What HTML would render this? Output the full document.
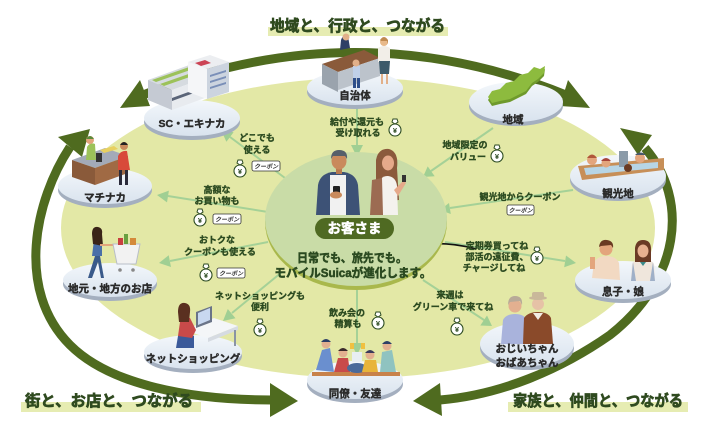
<!DOCTYPE html>
<html><head><meta charset="utf-8">
<style>
html,body{margin:0;padding:0;background:#fff;}
svg{display:block;}
text{font-family:"Liberation Sans","Noto Sans CJK JP",sans-serif;font-weight:bold;}
.t{fill:#2b4a20;font-size:9px;text-anchor:middle;stroke:#2b4a20;stroke-width:0.35;}
.n{fill:#2a2a2a;font-size:10.5px;text-anchor:middle;stroke:#2a2a2a;stroke-width:0.4;}
.h{fill:#2f4a1f;font-size:15.5px;stroke:#2f4a1f;stroke-width:0.7;}
.y{fill:#2b4a20;font-size:7.5px;text-anchor:middle;}
.c{fill:#333;font-size:6px;text-anchor:middle;font-style:italic;}
.m{fill:#2b4a20;font-size:12px;text-anchor:middle;stroke:#2b4a20;stroke-width:0.55;}
</style></head><body>
<svg width="719" height="435" viewBox="0 0 719 435" xmlns="http://www.w3.org/2000/svg">
<defs>
<linearGradient id="dg" x1="0" y1="0" x2="0" y2="1"><stop offset="0" stop-color="#f3f7fb"/><stop offset="1" stop-color="#d9e3ee"/></linearGradient>
</defs>
<rect width="719" height="435" fill="#fff"/>
<ellipse cx="358" cy="228" rx="297" ry="150" fill="#e3e8a6"/>

<!-- big arrows -->
<g fill="none" stroke="#4f6b1f" stroke-width="9">
<path d="M143 95 Q355 10 566 95"/>
<path d="M70 147 C35 200 15 290 70 345 C110 385 190 400 272 400"/>
<path d="M645 148 C690 200 680 280 610 335 C560 370 500 395 440 400"/>
</g>
<g fill="#4f6b1f">
<polygon points="140,80 120,108 150,106"/>
<polygon points="568,80 590,108 560,106"/>
<polygon points="58,137 90,129 82,157"/>
<polygon points="652,135 620,128 638,155"/>
<polygon points="270,383 298,401 270,417"/>
<polygon points="440,383 413,401 442,416"/>
</g>

<!-- titles -->
<rect x="268" y="27" width="180" height="9" fill="#e6ecb2"/>
<text class="h" x="270" y="31" textLength="175" lengthAdjust="spacingAndGlyphs">地域と、行政と、つながる</text>
<rect x="21" y="402" width="180" height="10" fill="#e6ecb2"/>
<text class="h" x="25" y="406" textLength="168" lengthAdjust="spacingAndGlyphs">街と、お店と、つながる</text>
<rect x="508" y="402" width="180" height="10" fill="#e6ecb2"/>
<text class="h" x="513" y="406" textLength="170" lengthAdjust="spacingAndGlyphs">家族と、仲間と、つながる</text>

<!-- connectors -->
<g stroke="#a5d197" stroke-width="2" fill="none">
<line x1="357" y1="108" x2="357" y2="147"/>
<line x1="493" y1="128" x2="431" y2="171"/>
<line x1="573" y1="190" x2="450" y2="208"/>
<line x1="445" y1="242" x2="565" y2="261"/>
<line x1="423" y1="280" x2="484" y2="320"/>
<line x1="357" y1="288" x2="357" y2="344"/>
<line x1="282" y1="272" x2="232" y2="313"/>
<line x1="268" y1="242" x2="170" y2="261"/>
<line x1="268" y1="212" x2="168" y2="196"/>
<line x1="285" y1="178" x2="230" y2="137"/>
</g>
<g fill="#a0cf93">
<polygon points="351,145 363,145 357,157"/>
<polygon points="427.7,166.4 434.7,176.2 423,177"/>
<polygon points="449,203 450.8,214 440,210"/>
<polygon points="564.2,267.3 566,255.5 576,263"/>
<polygon points="480.3,325.5 487,315.5 492,326"/>
<polygon points="351,343 363,343 357,355"/>
<polygon points="227.8,309 235.5,318.3 223,321"/>
<polygon points="168.7,255.2 171,267 159,263"/>
<polygon points="168.9,190.6 167,202.4 157,195"/>
<polygon points="233.6,132.2 226.4,141.8 221,130"/>
</g>

<!-- black stray line -->
<path d="M423 244 Q452 242 476 249" stroke="#111" stroke-width="1.6" fill="none"/>

<!-- center circle -->
<ellipse cx="356" cy="222" rx="91" ry="68" fill="#a9b84c"/>
<ellipse cx="356" cy="219" rx="91" ry="67" fill="#c9dca7"/>

<!-- center people: man -->
<g>
<path d="M316 215 L318 185 Q320 174 332 172 L344 172 Q356 174 358 185 L360 215 Z" fill="#3d5276"/>
<rect x="330" y="175" width="16" height="40" fill="#f1f1f1"/>
<rect x="336" y="166" width="6" height="8" fill="#b97a50"/>
<ellipse cx="339" cy="161" rx="7.5" ry="8.5" fill="#c98a5c"/>
<path d="M331 159 Q331 150 339 150 Q348 150 347 159 L345 156 L333 156 Z" fill="#56606a"/>
<rect x="333" y="186" width="7" height="10" rx="1" fill="#222"/>
<ellipse cx="336" cy="195" rx="6" ry="3.5" fill="#c98a5c"/>
</g>
<!-- center people: woman -->
<g>
<path d="M376 160 Q378 148 389 149 Q399 152 397 168 L399 200 L380 202 L376 180 Z" fill="#8b5a3c"/>
<path d="M378 185 Q380 176 388 176 Q396 177 397 186 L398 215 L377 215 Z" fill="#f4f2ee"/>
<ellipse cx="388" cy="163" rx="6" ry="7.5" fill="#e5a98a"/>
<path d="M372 180 L382 178 L383 215 L370 215 Z" fill="#9c6b52"/>
<path d="M394 190 L404 180 L406 183 L398 196 Z" fill="#e5a98a"/>
<rect x="402" y="175" width="4" height="7" fill="#333"/>
</g>
<rect x="315" y="218" width="79" height="21" rx="10.5" fill="#4f6a22"/>
<text x="354.5" y="233" fill="#fff" stroke="#fff" stroke-width="0.5" font-size="13.5" text-anchor="middle">お客さま</text>
<text class="m" x="352" y="262" textLength="110" lengthAdjust="spacingAndGlyphs">日常でも、旅先でも。</text>
<text class="m" x="353" y="277" textLength="157" lengthAdjust="spacingAndGlyphs">モバイルSuicaが進化します。</text>

<!-- nodes: disks -->
<g>
<ellipse cx="355" cy="92" rx="48" ry="17" fill="#a4afbf"/><ellipse cx="355" cy="88" rx="48" ry="17" fill="url(#dg)"/>
<ellipse cx="192" cy="122" rx="48" ry="18" fill="#a4afbf"/><ellipse cx="192" cy="118" rx="48" ry="18" fill="url(#dg)"/>
<ellipse cx="516" cy="106" rx="47" ry="20" fill="#a4afbf"/><ellipse cx="516" cy="102" rx="47" ry="20" fill="url(#dg)"/>
<ellipse cx="618" cy="180" rx="48" ry="21" fill="#a4afbf"/><ellipse cx="618" cy="176" rx="48" ry="21" fill="url(#dg)"/>
<ellipse cx="623" cy="284" rx="48" ry="19" fill="#a4afbf"/><ellipse cx="623" cy="280" rx="48" ry="19" fill="url(#dg)"/>
<ellipse cx="527" cy="348" rx="47" ry="22" fill="#a4afbf"/><ellipse cx="527" cy="344" rx="47" ry="22" fill="url(#dg)"/>
<ellipse cx="355" cy="384" rx="48" ry="19" fill="#a4afbf"/><ellipse cx="355" cy="380" rx="48" ry="19" fill="url(#dg)"/>
<ellipse cx="193" cy="356" rx="49" ry="17" fill="#a4afbf"/><ellipse cx="193" cy="352" rx="49" ry="17" fill="url(#dg)"/>
<ellipse cx="110" cy="284" rx="47" ry="17" fill="#a4afbf"/><ellipse cx="110" cy="280" rx="47" ry="17" fill="url(#dg)"/>
<ellipse cx="105" cy="190" rx="47" ry="18" fill="#a4afbf"/><ellipse cx="105" cy="186" rx="47" ry="18" fill="url(#dg)"/>
</g>

<!-- 自治体 illustration -->
<g>
<path d="M341 40 Q343 34 348 36 L350 48 L340 50 Z" fill="#2e3f66"/>
<circle cx="346" cy="37" r="3.5" fill="#e2b08a"/>
<polygon points="322,64 364,50 380,58 338,72" fill="#8a5a3a"/>
<polygon points="322,64 338,72 338,92 322,84" fill="#9aa3ad"/>
<polygon points="338,72 380,58 380,76 338,90" fill="#bcc3cb"/>
<rect x="353" y="66" width="7" height="12" fill="#c0d0e8"/>
<rect x="353" y="78" width="3" height="10" fill="#2f4f8a"/><rect x="357" y="78" width="3" height="10" fill="#2f4f8a"/>
<circle cx="356" cy="63" r="3.5" fill="#e2b08a"/>
<path d="M378 48 Q384 44 390 48 L390 62 L378 62 Z" fill="#f2eee8"/>
<path d="M379 61 L390 61 L389 74 L380 74 Z" fill="#3d5a6a"/>
<rect x="381" y="74" width="2" height="10" fill="#e2b08a"/><rect x="386" y="74" width="2" height="10" fill="#e2b08a"/>
<circle cx="384" cy="42" r="4" fill="#e8b98a"/>
<path d="M380 40 Q384 34 388 40 L388 44 L387 41 L381 41 Z" fill="#c08a50"/>
</g>
<text class="n" x="355" y="99">自治体</text>

<!-- SC illustration -->
<g>
<polygon points="148,80 192,64 216,74 172,90" fill="#d6dbe0"/>
<polygon points="152,80 192,66 196,68 156,82" fill="#9cc25a"/>
<polygon points="160,84 200,70 204,72 164,86" fill="#9cc25a"/>
<polygon points="148,80 172,90 172,110 148,100" fill="#c5cad3"/>
<polygon points="172,90 216,74 216,94 172,110" fill="#e8ebef"/>
<polygon points="172,98 216,82 216,85 172,101" fill="#5a6478"/>
<polygon points="188,62 210,55 229,62 207,69" fill="#eceef1"/>
<polygon points="188,62 207,69 207,99 188,92" fill="#f5f6f8"/>
<polygon points="207,69 229,62 229,92 207,99" fill="#ccd4df"/>
<polygon points="195,63 205,60 211,63 201,66" fill="#cc4455"/>
<polygon points="210,75 226,70 226,72 210,77" fill="#7a8fb8"/>
<polygon points="210,81 226,76 226,78 210,83" fill="#7a8fb8"/>
<polygon points="210,87 226,82 226,84 210,89" fill="#7a8fb8"/>
</g>
<text class="n" x="192" y="127">SC・エキナカ</text>

<!-- 地域 map -->
<g>
<path d="M488 100 L492 94 L500 92 L506 86 L514 84 L520 78 L528 76 L534 70 L540 72 L545 69 L544 76 L538 82 L532 86 L526 94 L518 98 L510 102 L500 104 L492 106 Z" fill="#6f9a2c"/>
<path d="M488 97 L492 91 L500 89 L506 83 L514 81 L520 75 L528 73 L534 67 L540 69 L545 66 L544 73 L538 79 L532 83 L526 91 L518 95 L510 99 L500 101 L492 103 Z" fill="#8dbb3e"/>
</g>
<text class="n" x="513" y="123">地域</text>

<!-- 観光地 -->
<g>
<polygon points="578,166 664,158 664,170 582,180" fill="#c78f58"/>
<polygon points="584,168 658,162 658,168 586,175" fill="#b7d5e6"/>
<circle cx="592" cy="160" r="5" fill="#e3a57c"/><path d="M587 158 Q592 151 597 158 Z" fill="#b0573a"/>
<circle cx="606" cy="163" r="4.5" fill="#e3a57c"/><path d="M601 161 Q606 155 611 161 Z" fill="#a8453a"/>
<rect x="619" y="151" width="9" height="16" fill="#8a9aa8"/>
<circle cx="640" cy="158" r="5" fill="#e3a57c"/><path d="M635 155 Q640 150 646 155 Z" fill="#4a5a6a"/>
<circle cx="628" cy="168" r="4" fill="#6a3a22"/>
</g>
<text class="n" x="618" y="197">観光地</text>

<!-- 息子・娘 -->
<g>
<path d="M592 278 L594 262 Q598 256 606 256 Q616 256 619 263 L620 280 Z" fill="#f2d9c2"/>
<circle cx="606" cy="249" r="6.5" fill="#e3a57c"/>
<path d="M599 247 Q600 239 607 240 Q614 241 613 248 L611 245 L601 246 Z" fill="#6a3a22"/>
<rect x="590" y="257" width="5" height="12" fill="#e3a57c"/>
<path d="M631 281 L632 264 Q635 259 643 259 Q651 259 654 264 L655 281 Z" fill="#efe6dc"/>
<path d="M633 262 L636 281 L631 281 Z" fill="#9fb0c8"/><path d="M653 262 L650 281 L655 281 Z" fill="#9fb0c8"/>
<path d="M635 248 Q636 240 643 240 Q651 240 651 249 L651 262 L635 262 Z" fill="#6b3a25"/>
<ellipse cx="643" cy="251" rx="5.5" ry="6.5" fill="#e8b090"/>
<path d="M640 262 L646 262 L643 266 Z" fill="#3a8a8a"/>
</g>
<text class="n" x="623" y="295">息子・娘</text>

<!-- grandparents -->
<g>
<path d="M501 344 L503 320 Q506 314 515 314 Q524 314 527 320 L528 344 Z" fill="#a9b3dc"/>
<circle cx="515" cy="306" r="6.5" fill="#e3b090"/>
<path d="M508 305 Q508 296 515 296 Q523 296 522 305 L520 301 L510 302 Z" fill="#b8aa98"/>
<path d="M523 344 L524 318 Q528 312 538 312 Q548 312 551 318 L553 344 Z" fill="#8a4a2a"/>
<path d="M533 313 L538 320 L543 313 Z" fill="#f2ece4"/>
<circle cx="538" cy="304" r="6" fill="#e6c2a6"/>
<ellipse cx="538" cy="298" rx="9" ry="2" fill="#c9b89a"/>
<rect x="532" y="292" width="12" height="6" rx="2" fill="#c9b89a"/>
</g>
<text class="n" x="527" y="352">おじいちゃん</text>
<text class="n" x="527" y="366">おばあちゃん</text>

<!-- 同僚 -->
<g>
<rect x="312" y="372" width="88" height="4" fill="#c8824a"/>
<path d="M316 370 L322 350 L330 348 L334 372 Z" fill="#6a8fcf"/>
<circle cx="326" cy="344" r="4.5" fill="#e3b090"/><path d="M321 342 Q326 336 331 342 Z" fill="#2e3f66"/>
<path d="M334 372 L338 358 L348 358 L350 372 Z" fill="#c84a4a"/>
<circle cx="343" cy="353" r="4.5" fill="#e3b090"/><path d="M338 351 Q343 345 348 351 Z" fill="#3a2a2a"/>
<ellipse cx="357" cy="368" rx="10" ry="5" fill="#4a6a9a"/>
<rect x="352" y="352" width="10" height="10" fill="#e8eef2"/>
<path d="M362 372 L365 360 L376 360 L378 372 Z" fill="#e8b43a"/>
<circle cx="370" cy="355" r="4.5" fill="#e3b090"/><path d="M365 353 Q370 347 375 353 Z" fill="#3a3a5a"/>
<path d="M380 372 L382 352 L392 350 L396 372 Z" fill="#8fc3c0"/>
<circle cx="387" cy="346" r="4.5" fill="#e3b090"/><path d="M382 344 Q387 338 392 344 Z" fill="#2e3f66"/>
<rect x="350" y="343" width="4" height="6" fill="#f0c040"/><rect x="361" y="343" width="4" height="6" fill="#f0c040"/>
</g>
<text class="n" x="355" y="397">同僚・友達</text>

<!-- ネットショッピング -->
<g>
<polygon points="184,330 214,318 238,326 208,338" fill="#f4f6f8"/>
<polygon points="208,338 238,326 238,330 208,342" fill="#d6dbe2"/>
<rect x="234" y="330" width="2" height="16" fill="#8a94a4"/>
<polygon points="196,312 212,306 212,322 196,328" fill="#6a7488"/>
<polygon points="198,313 210,308 210,320 198,325" fill="#c8d8f0"/>
<path d="M176 348 L178 336 Q186 332 194 336 L194 348 Z" fill="#3b5a9a"/>
<path d="M178 336 L180 322 Q184 316 190 318 L196 330 L192 338 Z" fill="#c84a4a"/>
<circle cx="184" cy="312" r="5" fill="#e3b090"/>
<path d="M178 312 Q178 302 185 303 Q191 304 190 312 L189 322 L179 322 Z" fill="#5a3020"/>
</g>
<text class="n" x="193" y="362">ネットショッピング</text>

<!-- 地元・地方のお店 -->
<g>
<path d="M88 278 L95 256 L100 256 L104 278 L101 278 L98 262 L92 278 Z" fill="#3a5a8a"/>
<path d="M92 256 L94 240 Q98 236 102 240 L102 256 Z" fill="#4a6fa8"/>
<circle cx="97" cy="234" r="4.5" fill="#e3a57c"/>
<path d="M92 234 Q92 226 98 227 Q103 228 102 234 L103 246 L93 244 Z" fill="#3a2418"/>
<rect x="100" y="244" width="14" height="2" fill="#e3a57c"/>
<polygon points="113,244 140,244 136,264 117,264" fill="#f2f2f2" stroke="#b8bec8" stroke-width="1"/>
<rect x="118" y="238" width="5" height="7" fill="#c84040"/><rect x="124" y="234" width="4" height="10" fill="#6aa040"/><rect x="130" y="238" width="6" height="7" fill="#d48a3a"/>
<circle cx="120" cy="270" r="1.8" fill="#888"/><circle cx="133" cy="270" r="1.8" fill="#888"/>
</g>
<text class="n" x="110" y="292">地元・地方のお店</text>

<!-- マチナカ -->
<g>
<polygon points="72,160 105,148 128,156 95,168" fill="#a3aab8"/>
<polygon points="72,160 95,168 95,185 72,177" fill="#8a5a3a"/>
<polygon points="95,168 128,156 128,173 95,185" fill="#a06a44"/>
<polygon points="100,150 114,146 118,149 104,153" fill="#e8d060"/>
<rect x="96" y="153" width="6" height="9" fill="#333"/>
<path d="M86 160 L87 147 Q90 142 95 144 L96 160 Z" fill="#9cc25a"/>
<circle cx="90" cy="140" r="4" fill="#e3a57c"/><path d="M86 139 Q90 133 94 139 Z" fill="#5a8a3a"/>
<path d="M118 170 L118 156 Q121 150 127 151 L130 170 Z" fill="#d84a3a"/>
<rect x="119" y="170" width="3" height="15" fill="#2a2a3a"/><rect x="125" y="170" width="3" height="15" fill="#2a2a3a"/>
<circle cx="124" cy="146" r="4" fill="#c98a5c"/><path d="M120 145 Q124 139 128 145 Z" fill="#222"/>
</g>
<text class="n" x="105" y="201">マチナカ</text>

<!-- connector labels -->
<text class="t" x="357" y="125">給付や還元も</text>
<text class="t" x="358" y="136">受け取れる</text>
<text class="t" x="465" y="148">地域限定の</text>
<text class="t" x="468" y="160">バリュー</text>
<text class="t" x="520" y="200">観光地からクーポン</text>
<text class="t" x="497" y="249">定期券買ってね</text>
<text class="t" x="497" y="260">部活の遠征費、</text>
<text class="t" x="494" y="271">チャージしてね</text>
<text class="t" x="450" y="298">来週は</text>
<text class="t" x="453" y="310">グリーン車で来てね</text>
<text class="t" x="347" y="316">飲み会の</text>
<text class="t" x="348" y="327">精算も</text>
<text class="t" x="260" y="299">ネットショッピングも</text>
<text class="t" x="260" y="310">便利</text>
<text class="t" x="217" y="243">おトクな</text>
<text class="t" x="220" y="255">クーポンも使える</text>
<text class="t" x="217" y="193">高額な</text>
<text class="t" x="217" y="204">お買い物も</text>
<text class="t" x="257" y="141">どこでも</text>
<text class="t" x="257" y="153">使える</text>

<!-- coins -->
<g stroke="#2b4a20" stroke-width="1.1" fill="#fff">
<circle cx="395" cy="130" r="6"/><circle cx="497" cy="156" r="6"/><circle cx="537" cy="258" r="6"/>
<circle cx="457" cy="329" r="6"/><circle cx="378" cy="323" r="6"/><circle cx="260" cy="330" r="6"/>
<circle cx="206" cy="275" r="6"/><circle cx="200" cy="220" r="6"/><circle cx="240" cy="171" r="6"/>
</g>
<g stroke="#2b4a20" stroke-width="1" fill="#fff">
<path d="M392 122 L395 124 L398 122 L397 119 L393 119 Z"/>
<path d="M494 148 L497 150 L500 148 L499 145 L495 145 Z"/>
<path d="M534 250 L537 252 L540 250 L539 247 L535 247 Z"/>
<path d="M454 321 L457 323 L460 321 L459 318 L455 318 Z"/>
<path d="M375 315 L378 317 L381 315 L380 312 L376 312 Z"/>
<path d="M257 322 L260 324 L263 322 L262 319 L258 319 Z"/>
<path d="M203 267 L206 269 L209 267 L208 264 L204 264 Z"/>
<path d="M197 212 L200 214 L203 212 L202 209 L198 209 Z"/>
<path d="M237 163 L240 165 L243 163 L242 160 L238 160 Z"/>
</g>
<text class="y" x="395" y="133">¥</text><text class="y" x="497" y="159">¥</text><text class="y" x="537" y="261">¥</text>
<text class="y" x="457" y="332">¥</text><text class="y" x="378" y="326">¥</text><text class="y" x="260" y="333">¥</text>
<text class="y" x="206" y="278">¥</text><text class="y" x="200" y="223">¥</text><text class="y" x="240" y="174">¥</text>

<!-- coupons -->
<g fill="#fff" stroke="#333" stroke-width="0.8">
<rect x="252" y="161" width="28" height="10" rx="2"/>
<rect x="213" y="214" width="28" height="10" rx="2"/>
<rect x="217" y="268" width="28" height="10" rx="2"/>
<rect x="507" y="205" width="27" height="10" rx="2"/>
</g>
<text class="c" x="266" y="168.5">クーポン</text>
<text class="c" x="227" y="221.5">クーポン</text>
<text class="c" x="231" y="275.5">クーポン</text>
<text class="c" x="520.5" y="212.5">クーポン</text>
</svg>
</body></html>
